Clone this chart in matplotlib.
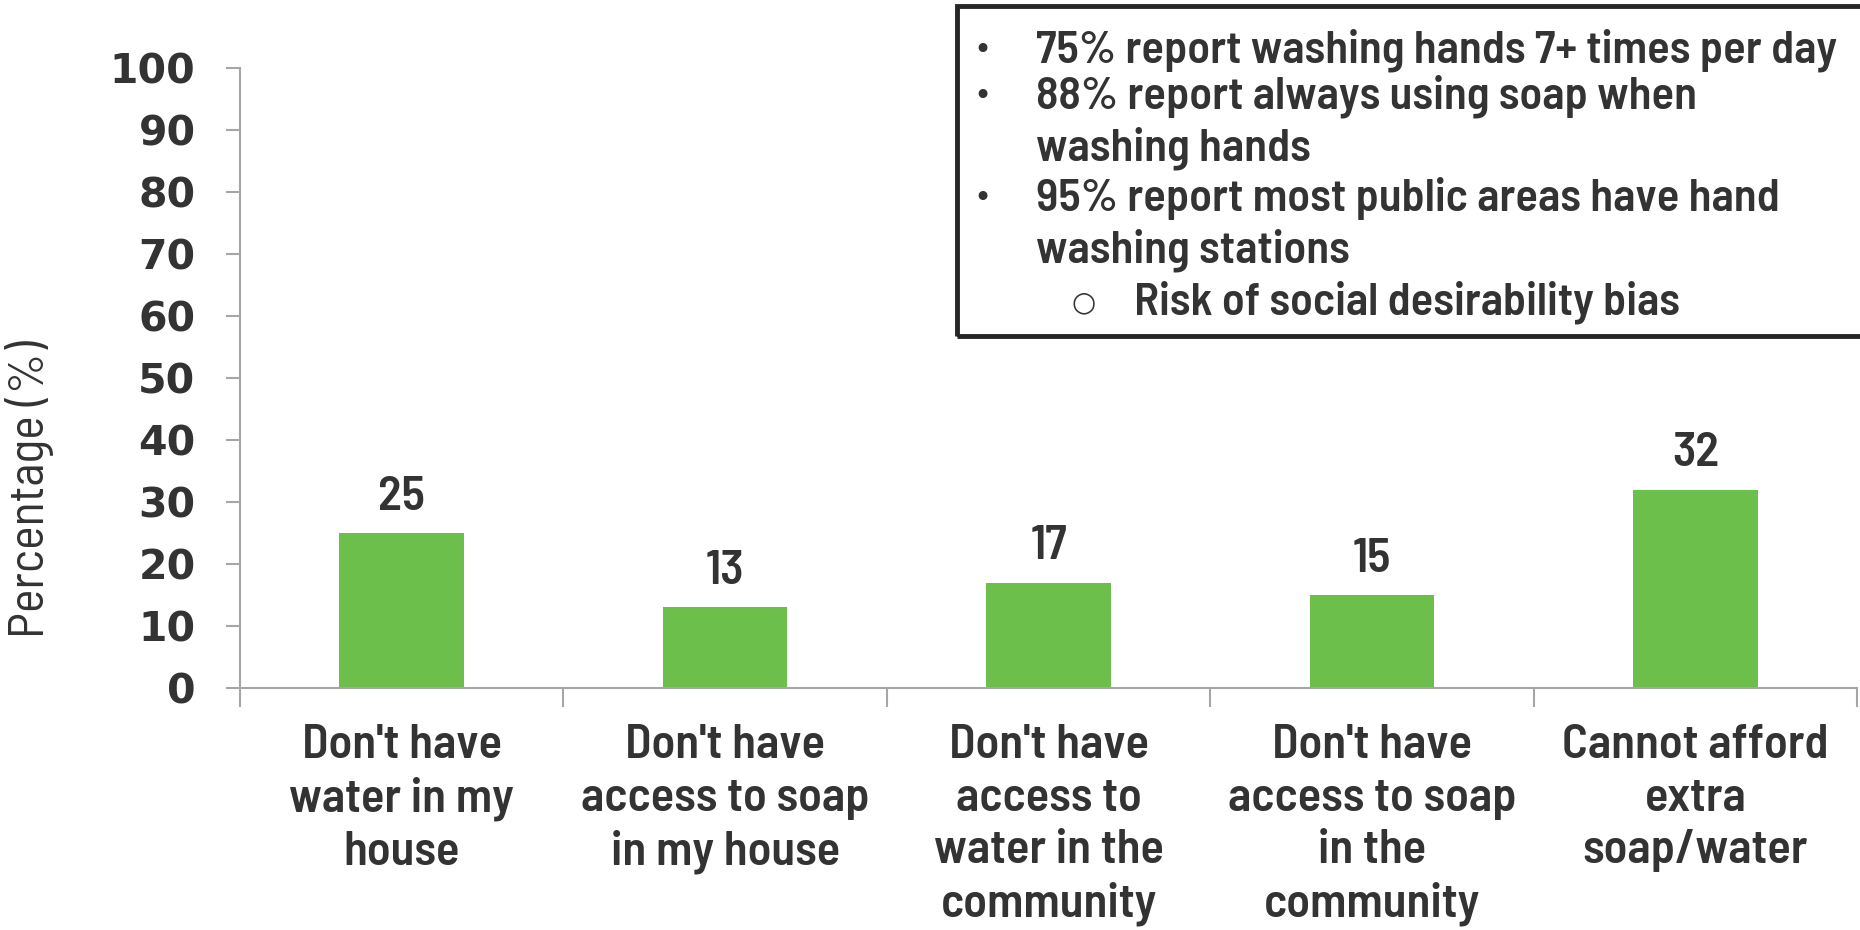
import numpy as np
import matplotlib.pyplot as plt
from matplotlib.patches import Rectangle

# Barriers to hand washing
categories = [
    "Don't have\nwater in my\nhouse",
    "Don't have\naccess to soap\nin my house",
    "Don't have\naccess to\nwater in the\ncommunity",
    "Don't have\naccess to soap\nin the\ncommunity",
    "Cannot afford\nextra\nsoap/water",
]
percentages = [25, 13, 17, 15, 32]
yticks = list(range(0, 101, 10))

notes = [
    ("\u2022", "75% report washing hands 7+ times per day", 0),
    ("\u2022", "88% report always using soap when", 0),
    ("", "washing hands", 0),
    ("\u2022", "95% report most public areas have hand", 0),
    ("", "washing stations", 0),
    ("\u25cb", "Risk of social desirability bias", 1),
]

narrow = ["Barlow Semi Condensed", "Asap Condensed", "DejaVu Sans"]
text_col = "#333333"
axis_col = "#a6a6a6"
bar_col = "#6cbf4b"

fig = plt.figure(figsize=(18.6, 9.3), dpi=100)
ax = fig.add_axes([240 / 1860, 1 - 688 / 930, (1857 - 240) / 1860, (688 - 68) / 930])

x = np.arange(len(categories))
bars = ax.bar(x, percentages, width=0.385, color=bar_col, zorder=2)
for xi, v in zip(x, percentages):
    ax.text(xi, v + 2.3, str(v), ha="center", va="bottom", fontsize=35,
            fontweight="semibold", family=narrow, color=text_col)

ax.set_xlim(-0.5, len(categories) - 0.5)
ax.set_ylim(0, 100)
ax.set_yticks(yticks)
ax.set_yticklabels([str(t) for t in yticks], fontsize=29.5, fontweight="bold",
                   family="DejaVu Sans", color=text_col)
ax.set_xticks(x)
ax.set_xticklabels(categories, fontsize=35, fontweight="semibold", family=narrow,
                   color=text_col, linespacing=1.28)
ax.set_xticks(np.arange(-0.5, len(categories)), minor=True)
ax.tick_params(axis="x", which="major", length=0, pad=26)
ax.tick_params(axis="x", which="minor", length=14, width=1.5, color=axis_col)
ax.tick_params(axis="y", length=10, width=1.5, color=axis_col, pad=22)

for side in ["top", "right"]:
    ax.spines[side].set_visible(False)
for side in ["left", "bottom"]:
    ax.spines[side].set_color(axis_col)
    ax.spines[side].set_linewidth(1.5)

fig.text(30 / 1860, 1 - 489 / 930, "Percentage (%)", rotation=90, ha="center",
         va="center", fontsize=36, family=narrow, color=text_col)

# Notes box in the upper right
fig.patches.append(Rectangle((957 / 1860, 1 - 336 / 930), (1860 - 957) / 1860 + 0.01,
                             (336 - 6) / 930, transform=fig.transFigure,
                             fill=False, edgecolor="#262626", linewidth=3.5,
                             clip_on=False))
line_y = [50, 96, 148, 198, 250, 302]
for (mark, txt, level), yy in zip(notes, line_y):
    if level == 0:
        bx, tx = 982, 1036
    else:
        bx, tx = 1084, 1134
    if mark:
        fig.text(bx / 1860, 1 - yy / 930, mark, ha="center", va="center",
                 fontsize=22 if level == 0 else 20, family="DejaVu Sans", color=text_col)
    fig.text(tx / 1860, 1 - yy / 930, txt, ha="left", va="center", fontsize=33.5,
             fontweight="semibold", family=narrow, color=text_col)

fig.savefig("out.png", dpi=100)
